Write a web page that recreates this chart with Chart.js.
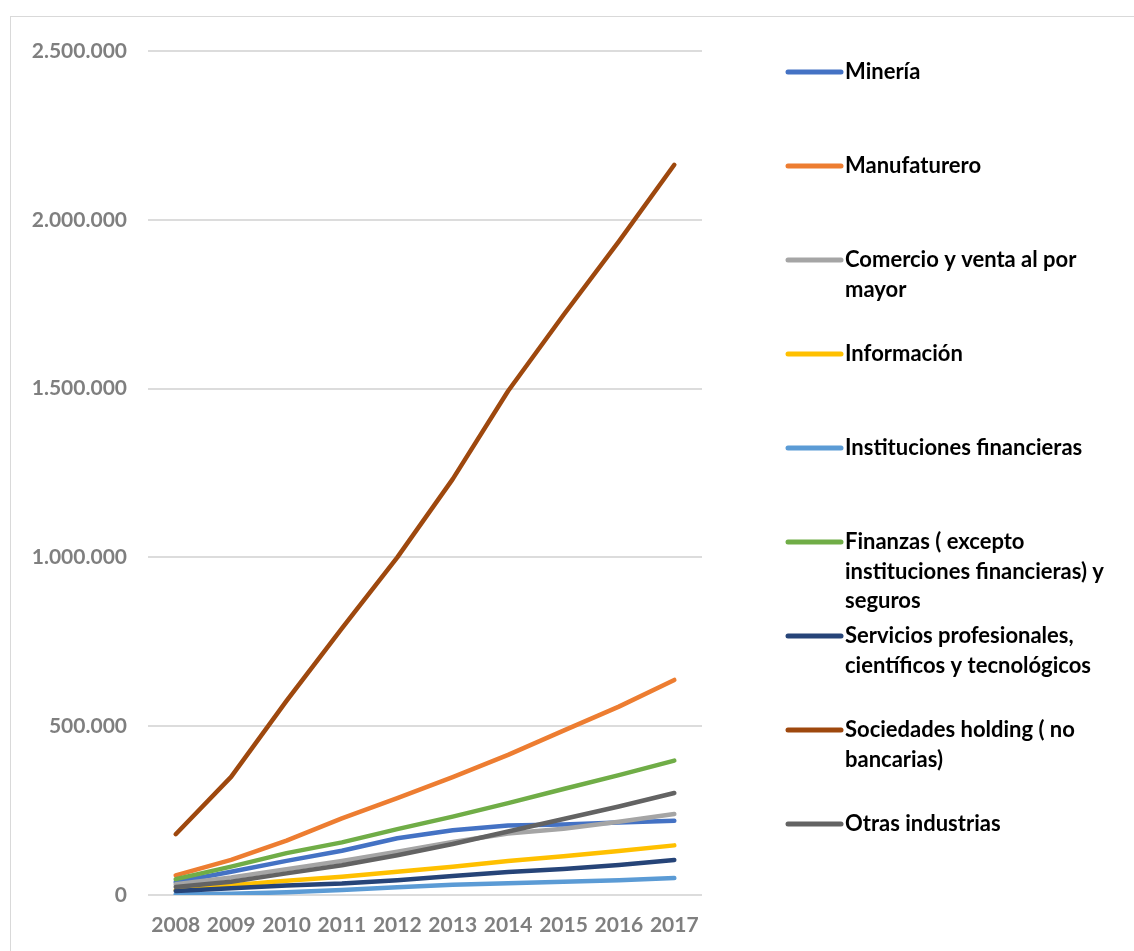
<!DOCTYPE html>
<html>
<head>
<meta charset="utf-8">
<script src="https://cdn.jsdelivr.net/npm/chart.js@4.4.1/dist/chart.umd.min.js"></script>
<style>
  html, body { margin: 0; padding: 0; background: #fff; overflow: hidden; }
  #frame { position: absolute; left: 10px; top: 16px; width: 1200px; height: 1000px; border: 1px solid #d9d9d9; }
  #chart { position: absolute; left: 0; top: 0; }
</style>
</head>
<body>
<div id="frame"></div>
<canvas id="chart" width="1134" height="951"></canvas>
<script>
// Years on the x axis
const years = ["2008", "2009", "2010", "2011", "2012", "2013", "2014", "2015", "2016", "2017"];

// Values per sector
const mineria = [38000, 69000, 101000, 131000, 168000, 192000, 206000, 209000, 215000, 220000];
const manufaturero = [58000, 104000, 161000, 227000, 287000, 349000, 415000, 487000, 558000, 637000];
const comercio = [32000, 52000, 76000, 101000, 128000, 157000, 182000, 196000, 217000, 240000];
const informacion = [15000, 29000, 42000, 54000, 69000, 84000, 101000, 115000, 130000, 147000];
const instituciones = [2000, 4000, 8000, 15000, 23000, 30000, 35000, 39000, 44000, 50000];
const finanzas = [47000, 84000, 124000, 156000, 195000, 232000, 272000, 314000, 355000, 398000];
const servicios = [12000, 20000, 28000, 34000, 44000, 56000, 68000, 77000, 89000, 104000];
const holding = [180000, 350000, 575000, 790000, 1000000, 1232000, 1493000, 1718000, 1936000, 2163000];
const otras = [24000, 39000, 64000, 88000, 118000, 151000, 188000, 225000, 262000, 302000];

const seriesNames = [
  "Minería",
  "Manufaturero",
  "Comercio y venta al por mayor",
  "Información",
  "Instituciones financieras",
  "Finanzas ( excepto instituciones financieras) y seguros",
  "Servicios profesionales, científicos y tecnológicos",
  "Sociedades holding ( no bancarias)",
  "Otras industrias"
];
const seriesValues = [mineria, manufaturero, comercio, informacion, instituciones, finanzas, servicios, holding, otras];
const seriesColors = ["#4472C4", "#ED7D31", "#A5A5A5", "#FFC000", "#5B9BD5", "#70AD47", "#264478", "#9E480E", "#636363"];

// y axis tick values
const yMax = 2500000;
const yStep = 500000;

function withDots(v) {
  return String(v).replace(/\B(?=(\d{3})+(?!\d))/g, ".");
}

// split a label into lines that fit maxWidth
function wrapText(ctx, text, maxWidth) {
  const words = text.split(" ");
  const lines = [];
  let line = "";
  words.forEach(w => {
    const test = line ? line + " " + w : w;
    if (ctx.measureText(test).width > maxWidth && line) {
      lines.push(line);
      line = w;
    } else {
      line = test;
    }
  });
  if (line) lines.push(line);
  return lines;
}

// legend on the right side, one entry every 94px
const sideLegend = {
  id: "sideLegend",
  afterDraw(chart) {
    const ctx = chart.ctx;
    ctx.save();
    ctx.font = "bold 22px Lato";
    ctx.textBaseline = "middle";
    ctx.textAlign = "left";
    chart.data.datasets.forEach((ds, i) => {
      const y = 72 + i * 94;
      ctx.strokeStyle = ds.borderColor;
      ctx.lineWidth = 5;
      ctx.lineCap = "round";
      ctx.beginPath();
      ctx.moveTo(788, y);
      ctx.lineTo(841, y);
      ctx.stroke();
      ctx.fillStyle = "#000";
      wrapText(ctx, ds.label, 268).forEach((line, k) => {
        ctx.fillText(line, 845, y + k * 29.5);
      });
    });
    ctx.restore();
  }
};

const datasets = seriesNames.map((name, i) => ({
  label: name,
  data: seriesValues[i],
  borderColor: seriesColors[i],
  backgroundColor: seriesColors[i],
  borderWidth: 4.5,
  borderCapStyle: "round",
  borderJoinStyle: "round",
  pointRadius: 0,
  tension: 0,
  fill: false,
  order: seriesNames.length - i // later series on top
}));

new Chart(document.getElementById("chart"), {
  type: "line",
  data: { labels: years, datasets: datasets },
  options: {
    responsive: false,
    animation: false,
    layout: { padding: { left: 0, right: 432, top: 51, bottom: 0 } },
    plugins: {
      legend: { display: false },
      tooltip: { enabled: false }
    },
    scales: {
      x: {
        offset: true,
        grid: { display: false, drawTicks: false },
        border: { display: false },
        ticks: {
          color: "#7f7f7f",
          font: { family: "Lato", size: 21, weight: "bold" },
          padding: 18,
          maxRotation: 0,
          autoSkip: false
        },
        afterFit(scale) { scale.height = 56; }
      },
      y: {
        min: 0,
        max: yMax,
        grid: { color: "#dcdcdc", lineWidth: 2, drawTicks: false },
        border: { display: false },
        ticks: {
          stepSize: yStep,
          color: "#7f7f7f",
          font: { family: "Lato", size: 21, weight: "bold" },
          padding: 21,
          callback: v => withDots(v)
        },
        afterFit(scale) { scale.width = 148; }
      }
    }
  },
  plugins: [sideLegend]
});
</script>
</body>
</html>
